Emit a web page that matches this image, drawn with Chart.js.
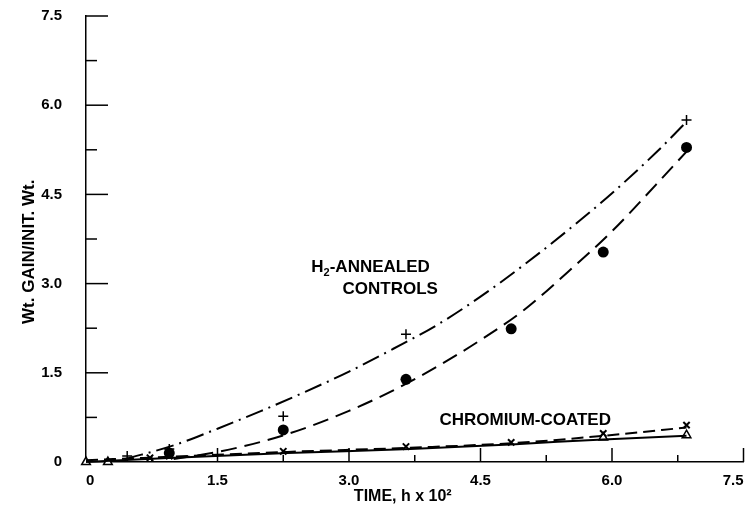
<!DOCTYPE html>
<html>
<head>
<meta charset="utf-8">
<script src="https://cdn.jsdelivr.net/npm/chart.js@4"></script>
<style>
  html, body { margin: 0; padding: 0; background: #fff; }
  #wrap { width: 750px; height: 517px; }
</style>
</head>
<body>
<div id="wrap"><canvas id="oxidation-chart"></canvas></div>
<script>
// measured points, time in h x 10^2, weight gain / initial weight
const plusTime = [0.47, 0.95, 2.25, 3.65, 6.85];
const plusGain = [0.10, 0.22, 0.77, 2.15, 5.75];
const dotTime = [0.95, 2.25, 3.65, 4.85, 5.9, 6.85];
const dotGain = [0.15, 0.54, 1.39, 2.24, 3.53, 5.29];
const crossTime = [0.73, 0.95, 2.25, 3.65, 4.85, 5.9, 6.85];
const crossGain = [0.07, 0.10, 0.18, 0.26, 0.33, 0.48, 0.62];
const triTime = [0, 0.25, 5.9, 6.85];
const triGain = [0, 0, 0.41, 0.45];

// hand-drawn fit curves
const ctrlPlusCurveX = [0.45, 1.0, 1.5, 2.0, 2.5, 3.0, 3.5, 4.0, 4.5, 5.0, 5.5, 6.0, 6.5, 6.85];
const ctrlPlusCurveY = [0.05, 0.28, 0.56, 0.86, 1.18, 1.52, 1.9, 2.3, 2.78, 3.32, 3.9, 4.52, 5.2, 5.72];
const ctrlDotCurveX = [1.0, 1.5, 2.0, 2.5, 3.0, 3.5, 4.0, 4.5, 5.0, 5.5, 6.0, 6.5, 6.85];
const ctrlDotCurveY = [0.05, 0.17, 0.34, 0.57, 0.86, 1.2, 1.6, 2.05, 2.56, 3.2, 3.88, 4.66, 5.22];
const chromSolidX = [0, 1.0, 2.3, 3.7, 4.9, 5.9, 6.85];
const chromSolidY = [0, 0.07, 0.15, 0.22, 0.3, 0.38, 0.44];
const chromDashX = [0, 1.0, 2.3, 3.7, 4.9, 5.9, 6.85];
const chromDashY = [0.03, 0.09, 0.17, 0.24, 0.32, 0.44, 0.58];

const axisTicks = [0, 1.5, 3.0, 4.5, 6.0, 7.5];
const minorTicks = [0.75, 2.25, 3.75, 5.25, 6.75];

const pts = (xs, ys) => xs.map((x, i) => ({x: x, y: ys[i]}));
const FONT = '"Liberation Sans", Arial, sans-serif';

// ticks on the inside of both axes
const innerTicks = {
    id: 'innerTicks',
    afterDraw(chart) {
        const {ctx, scales: {x, y}} = chart;
        ctx.save();
        ctx.strokeStyle = '#000';
        ctx.lineWidth = 1.5;
        const x0 = x.getPixelForValue(0), y0 = y.getPixelForValue(0);
        axisTicks.slice(1).forEach(v => {
            const px = x.getPixelForValue(v), py = y.getPixelForValue(v);
            ctx.beginPath(); ctx.moveTo(px, y0); ctx.lineTo(px, y0 - 14); ctx.stroke();
            ctx.beginPath(); ctx.moveTo(x0, py); ctx.lineTo(x0 + 22, py); ctx.stroke();
        });
        minorTicks.forEach(v => {
            const px = x.getPixelForValue(v), py = y.getPixelForValue(v);
            ctx.beginPath(); ctx.moveTo(px, y0); ctx.lineTo(px, y0 - 7); ctx.stroke();
            ctx.beginPath(); ctx.moveTo(x0, py); ctx.lineTo(x0 + 11, py); ctx.stroke();
        });
        ctx.restore();
    }
};

// curve labels, anchored in data units
const curveLabels = {
    id: 'curveLabels',
    afterDraw(chart) {
        const {ctx, scales: {x, y}} = chart;
        ctx.save();
        ctx.fillStyle = '#000';
        ctx.textBaseline = 'alphabetic';
        ctx.font = 'bold 17px ' + FONT;

        // H2-ANNEALED with subscript 2
        let px = x.getPixelForValue(2.57), py = y.getPixelForValue(3.2);
        ctx.textAlign = 'left';
        ctx.fillText('H', px, py);
        px += ctx.measureText('H').width;
        ctx.font = 'bold 11px ' + FONT;
        ctx.fillText('2', px, py + 4);
        px += ctx.measureText('2').width;
        ctx.font = 'bold 17px ' + FONT;
        ctx.fillText('-ANNEALED', px, py);

        ctx.textAlign = 'center';
        ctx.fillText('CONTROLS', x.getPixelForValue(3.47), y.getPixelForValue(2.83));
        ctx.fillText('CHROMIUM-COATED', x.getPixelForValue(5.01), y.getPixelForValue(0.62));
        ctx.restore();
    }
};

const curve = (data, dash, width) => ({
    type: 'line', data: data, showLine: true, pointRadius: 0,
    borderColor: '#000', borderWidth: width, borderDash: dash,
    cubicInterpolationMode: 'monotone', fill: false, clip: false
});

new Chart(document.getElementById('oxidation-chart'), {
    type: 'scatter',
    data: {
        datasets: [
            curve(pts(ctrlPlusCurveX, ctrlPlusCurveY), [18, 6, 2, 6], 2),
            curve(pts(ctrlDotCurveX, ctrlDotCurveY), [16, 8], 2),
            curve(pts(chromSolidX, chromSolidY), [], 2),
            curve(pts(chromDashX, chromDashY), [12, 6], 2),
            {
                label: 'controls +', data: pts(plusTime, plusGain),
                pointStyle: 'cross', pointRadius: 5, borderWidth: 1.5,
                borderColor: '#000', clip: false
            },
            {
                label: 'controls dot', data: pts(dotTime, dotGain),
                pointStyle: 'circle', pointRadius: 5.5, borderWidth: 0,
                backgroundColor: '#000', clip: false
            },
            {
                label: 'chromium x', data: pts(crossTime, crossGain),
                pointStyle: 'crossRot', pointRadius: 4.5, borderWidth: 2,
                borderColor: '#000', clip: false
            },
            {
                label: 'chromium triangle', data: pts(triTime, triGain),
                pointStyle: 'triangle', pointRadius: 5, borderWidth: 1.5,
                borderColor: '#000', backgroundColor: '#fff', clip: false
            }
        ]
    },
    options: {
        responsive: true,
        maintainAspectRatio: false,
        animation: false,
        layout: { padding: { top: 16, right: 2, left: 0, bottom: 0 } },
        plugins: { legend: { display: false }, tooltip: { enabled: false } },
        scales: {
            x: {
                type: 'linear', min: 0, max: 7.5,
                afterFit(scale) { scale.height = 55; scale.paddingLeft = 0; scale.paddingRight = 0; },
                afterBuildTicks(scale) { scale.ticks = axisTicks.map(v => ({value: v})); },
                grid: { display: false, drawTicks: false },
                border: { display: true, color: '#000', width: 1.5 },
                ticks: {
                    padding: 10, align: 'inner', color: '#000',
                    font: { family: FONT, size: 15, weight: 'bold' },
                    callback: v => v === 0 ? '0' : v.toFixed(1)
                },
                title: {
                    display: true, text: 'TIME, h x 10²\u2002\u2002\u2002', color: '#000',
                    padding: { top: 4, bottom: 11 },
                    font: { family: FONT, size: 16, weight: 'bold' }
                }
            },
            y: {
                type: 'linear', min: 0, max: 7.5,
                afterFit(scale) { scale.width = 86; scale.paddingTop = 0; scale.paddingBottom = 0; },
                afterBuildTicks(scale) { scale.ticks = axisTicks.map(v => ({value: v})); },
                grid: { display: false, drawTicks: false },
                border: { display: true, color: '#000', width: 1.5 },
                ticks: {
                    padding: 24, color: '#000',
                    font: { family: FONT, size: 15, weight: 'bold' },
                    callback: v => v === 0 ? '0' : v.toFixed(1)
                },
                title: {
                    display: true, text: 'Wt. GAIN/INIT. Wt.\u2002\u2002\u2002', color: '#000',
                    padding: { top: 19, bottom: 4 },
                    font: { family: FONT, size: 17, weight: 'bold' }
                }
            }
        }
    },
    plugins: [innerTicks, curveLabels]
});
</script>
</body>
</html>
